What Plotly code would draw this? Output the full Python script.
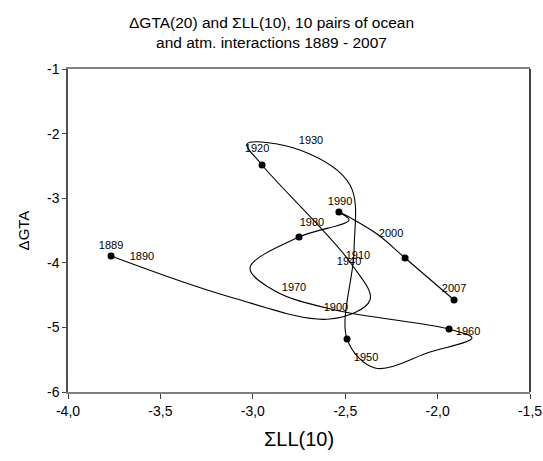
import plotly.graph_objects as go

# smoothed trajectory (SigmaLL(10), DeltaGTA) in time order 1889 -> 2007
path_x = [-3.767, -3.123, -2.582, -2.366, -2.474, -2.950, -3.031, -2.745, -2.474, -2.452,
          -2.490, -2.339, -2.041, -1.814, -1.938, -2.555, -2.880, -3.015, -2.750, -2.479,
          -2.534, -2.328, -2.176, -1.911]
path_y = [-3.895, -4.529, -4.870, -4.576, -3.988, -2.486, -2.161, -2.254, -2.796, -3.802,
          -5.180, -5.628, -5.381, -5.164, -5.025, -4.731, -4.437, -4.080, -3.601, -3.337,
          -3.214, -3.554, -3.926, -4.576]

# marked years
marker_years = ["1889", "1920", "1950", "1960", "1980", "1990", "2000", "2007"]
marker_x = [-3.767, -2.950, -2.490, -1.938, -2.750, -2.534, -2.176, -1.911]
marker_y = [-3.895, -2.486, -5.180, -5.025, -3.601, -3.214, -3.926, -4.576]

# year labels
label_text = ["1889", "1890", "1900", "1910", "1920", "1930", "1940", "1950", "1960",
              "1970", "1980", "1990", "2000", "2007"]
label_x = [-3.767, -3.600, -2.550, -2.431, -2.977, -2.685, -2.479, -2.387, -1.835,
           -2.777, -2.680, -2.528, -2.252, -1.911]
label_y = [-3.740, -3.910, -4.700, -3.895, -2.238, -2.115, -3.988, -5.474, -5.071,
           -4.390, -3.384, -3.059, -3.554, -4.406]

x_ticks = [-4.0, -3.5, -3.0, -2.5, -2.0, -1.5]
x_tick_text = ["-4,0", "-3,5", "-3,0", "-2,5", "-2,0", "-1,5"]
y_ticks = [-6, -5, -4, -3, -2, -1]

FONT = "Arial, Liberation Sans, sans-serif"

fig = go.Figure()
fig.add_trace(go.Scatter(x=path_x, y=path_y, mode="lines",
                         line=dict(color="black", width=1.1, shape="spline", smoothing=1.0),
                         hoverinfo="skip"))
fig.add_trace(go.Scatter(x=marker_x, y=marker_y, mode="markers", text=marker_years,
                         marker=dict(color="black", size=7)))
fig.add_trace(go.Scatter(x=label_x, y=label_y, mode="text", text=label_text,
                         textposition="middle center",
                         textfont=dict(family=FONT, size=11, color="black")))

fig.add_shape(type="line", xref="paper", yref="paper", x0=1, x1=1, y0=0, y1=1,
              line=dict(color="black", width=1.5))

fig.update_layout(
    width=543, height=461,
    margin=dict(l=68, r=13, t=69, b=69, autoexpand=False),
    paper_bgcolor="white", plot_bgcolor="white",
    showlegend=False,
    font=dict(family=FONT, color="black"),
    title=dict(text="\u0394GTA(20) and \u03a3LL(10), 10 pairs of ocean<br>and atm. interactions 1889 - 2007",
               x=0.5, xanchor="center", y=1 - 28 / 461, yanchor="middle", yref="container",
               font=dict(family=FONT, size=15.5, color="black")),
    xaxis=dict(range=[-4.0, -1.5], tickvals=x_ticks, ticktext=x_tick_text, automargin=False,
               showgrid=False, zeroline=False, showline=True, linecolor="#808080", linewidth=2,
               mirror=True, ticks="outside", ticklen=5, tickcolor="#404040",
               tickfont=dict(family=FONT, size=14),
               title=dict(text="\u03a3LL(10)", font=dict(family=FONT, size=20), standoff=14)),
    yaxis=dict(range=[-6, -1], tickvals=y_ticks, ticktext=[str(v) for v in y_ticks], automargin=False,
               showgrid=False, zeroline=False, showline=True, linecolor="#505050", linewidth=1.5,
               ticks="outside", ticklen=4, tickcolor="#404040",
               tickfont=dict(family=FONT, size=14),
               title=dict(text="\u0394GTA", font=dict(family=FONT, size=15), standoff=14)),
)

fig.write_html("out.html", config={"displayModeBar": False},
               post_script="document.body.style.margin='0';document.body.style.overflow='hidden';")
